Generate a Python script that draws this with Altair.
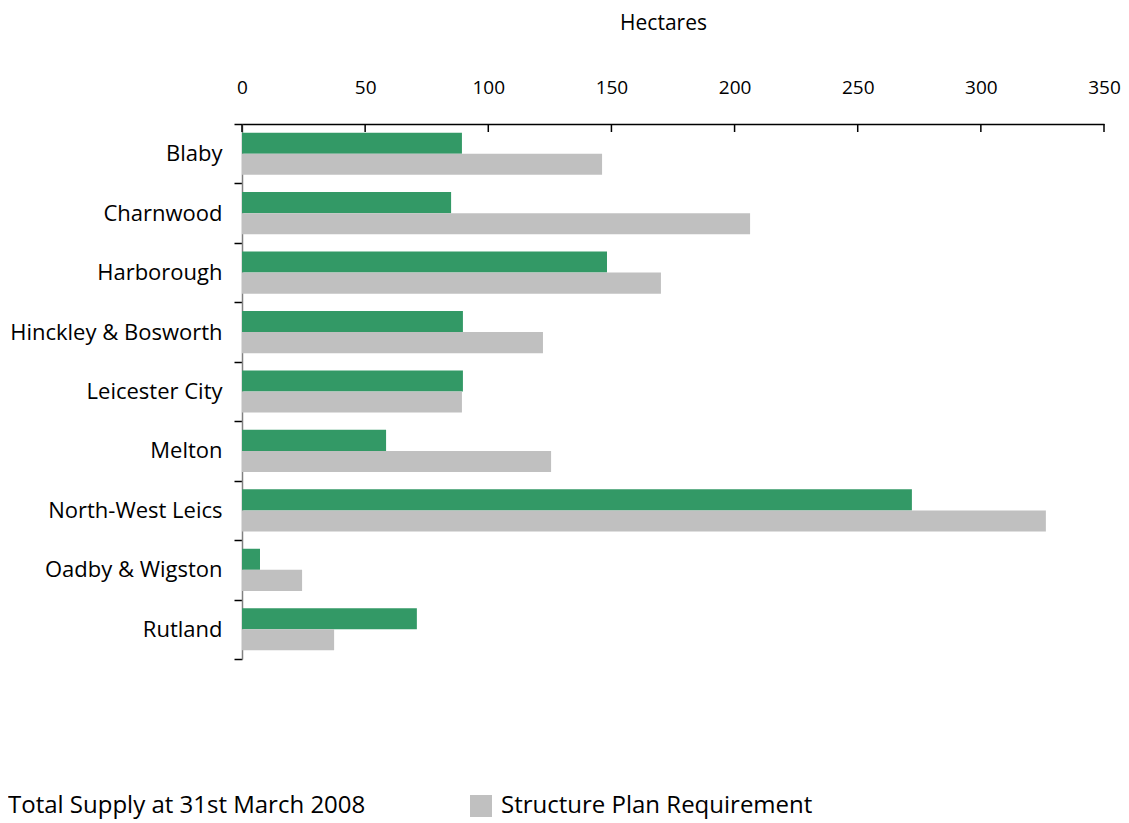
import altair as alt
import pandas as pd

districts = ["Blaby", "Charnwood", "Harborough", "Hinckley & Bosworth",
             "Leicester City", "Melton", "North-West Leics", "Oadby & Wigston", "Rutland"]
supply = [89.3, 84.9, 148.2, 89.7, 89.7, 58.5, 272.0, 7.3, 71.0]
requirement = [146.2, 206.3, 170.1, 122.2, 89.3, 125.5, 326.4, 24.4, 37.4]
series = ["Total Supply at 31st March 2008", "Structure Plan Requirement"]
colors = ["#339966", "#C0C0C0"]
x_ticks = [0, 50, 100, 150, 200, 250, 300, 350]

rows = []
for d, s, r in zip(districts, supply, requirement):
    rows.append({"district": d, "series": series[0], "value": s})
    rows.append({"district": d, "series": series[1], "value": r})
df = pd.DataFrame(rows)
ticks_df = pd.DataFrame({"t": x_ticks})

FONT = "Open Sans"
xscale = alt.Scale(domain=[0, 350], nice=False, zero=True)

bars = alt.Chart(df).mark_bar().encode(
    x=alt.X("value:Q", scale=xscale,
            axis=alt.Axis(orient="top", values=x_ticks, title="Hectares",
                          tickSize=0, labelPadding=27, titlePadding=45, titleX=421,
                          labelFlush=False, labelOverlap=False,
                          labelFontSize=19, titleFontSize=21, titleFontWeight="normal",
                          labelFont=FONT, titleFont=FONT, labelColor="#000", titleColor="#000",
                          domainColor="#000", domainWidth=1.5, grid=False)),
    y=alt.Y("district:N", sort=districts,
            scale=alt.Scale(paddingInner=0, paddingOuter=0),
            axis=alt.Axis(title=None, tickBand="extent", tickSize=8, tickColor="#000",
                          tickWidth=1.5, domainColor="#808080", domainWidth=1.5,
                          labelPadding=12, labelFontSize=22, labelFont=FONT,
                          labelColor="#000", labelLimit=400)),
    yOffset=alt.YOffset("series:N", sort=series,
                        scale=alt.Scale(paddingInner=0, paddingOuter=0.41)),
    color=alt.Color("series:N", sort=series,
                    scale=alt.Scale(domain=series, range=colors),
                    legend=alt.Legend(title=None, orient="none", legendX=-266, legendY=670,
                                      direction="horizontal", columns=2, columnPadding=103,
                                      symbolType="square", symbolSize=484, symbolStrokeWidth=0,
                                      labelOffset=8, labelFontSize=24, labelFont=FONT,
                                      labelColor="#000", labelLimit=0, padding=0)),
)

tick_marks = alt.Chart(ticks_df).mark_rule(color="#000", strokeWidth=1.5).encode(
    x=alt.X("t:Q", scale=xscale),
    y=alt.value(0),
    y2=alt.value(8),
)

chart = alt.layer(bars, tick_marks).properties(
    width=862, height=535,
    autosize=alt.AutoSizeParams(type="none"),
    padding={"left": 234, "top": 116, "right": 17, "bottom": 164},
).configure_view(stroke=None)

chart.save("out.html", embed_options={"renderer": "svg", "actions": False})
